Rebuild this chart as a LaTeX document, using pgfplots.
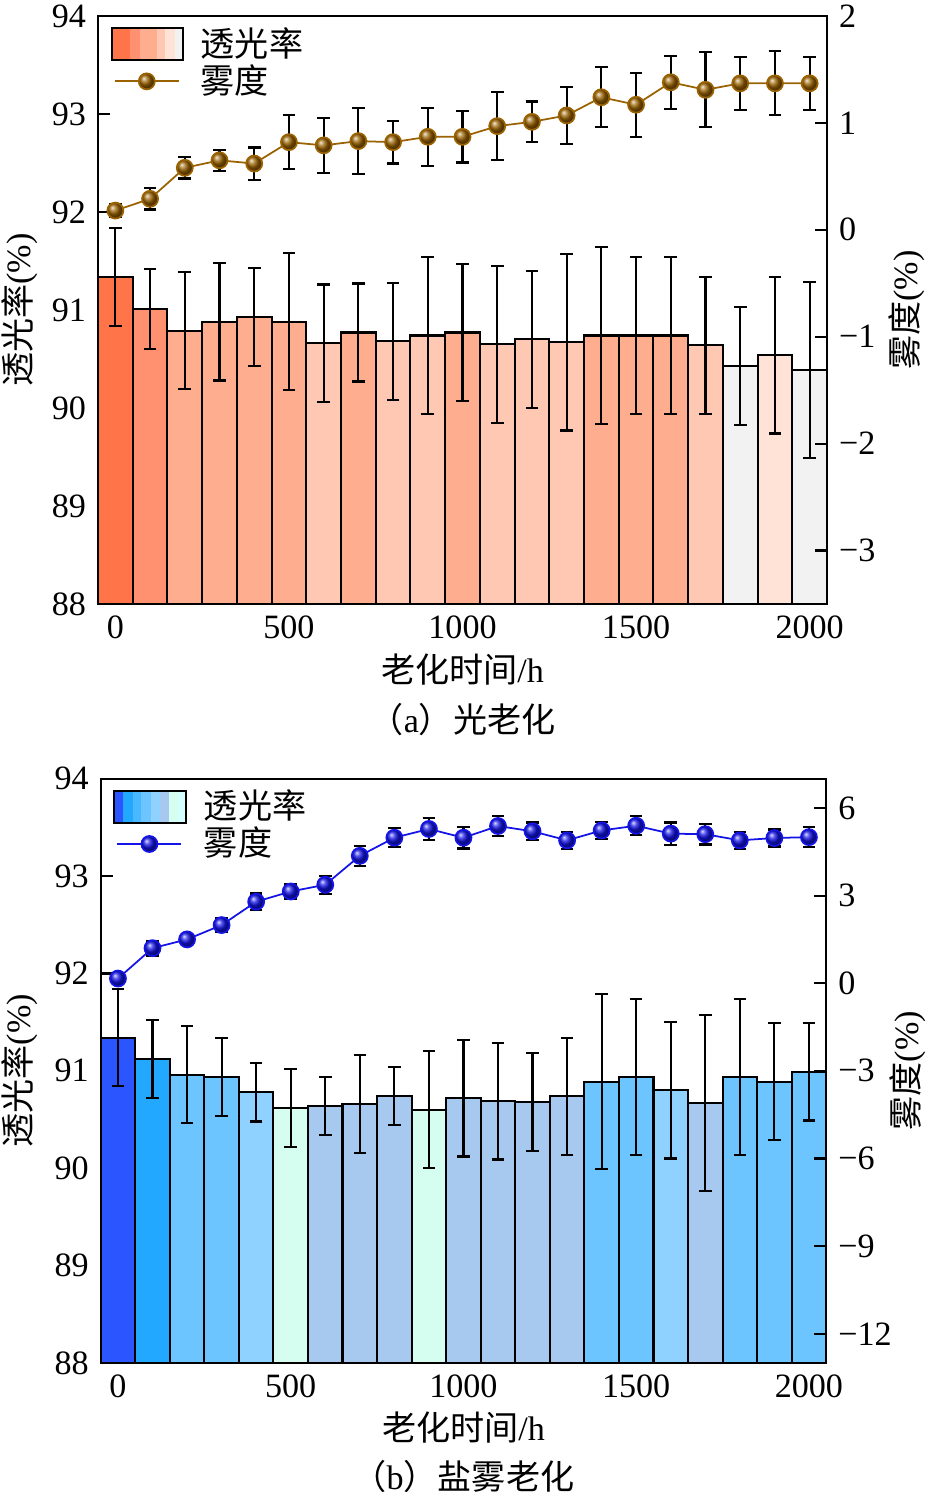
\documentclass[border=0pt]{standalone}
\usepackage{pgfplots}
\pgfplotsset{compat=1.18}
\usepackage{fontspec}
\setmainfont{Liberation Serif}
\newfontfamily\cjk{Noto Sans CJK SC}

\definecolor{ca0}{HTML}{FF7448}
\definecolor{ca1}{HTML}{FF9170}
\definecolor{ca2}{HTML}{FFAD8F}
\definecolor{ca3}{HTML}{FFC8B3}
\definecolor{ca4}{HTML}{FFE3D6}
\definecolor{ca5}{HTML}{F2F2F2}
\definecolor{hazeA}{HTML}{9A6200}
\definecolor{cb0}{HTML}{2A55FF}
\definecolor{cb1}{HTML}{22A8FF}
\definecolor{cbx}{HTML}{4AB8FF}
\definecolor{cb2}{HTML}{6CC5FF}
\definecolor{cb3}{HTML}{8FD1FF}
\definecolor{cb4}{HTML}{A8C9EF}
\definecolor{cb5}{HTML}{D5FDF0}
\definecolor{cby}{HTML}{D5FFFF}
\definecolor{hazeB}{HTML}{1414E6}

\pgfplotsset{
  mybar/.style={ybar, bar width=100, bar shift=0pt, draw=black, line width=0.6pt,
    /pgfplots/error bars/y dir=both, /pgfplots/error bars/y explicit,
    /pgfplots/error bars/error bar style={line width=0.6pt, black, solid},
    /pgfplots/error bars/error mark options={rotate=90, black, mark size=0.63mm, line width=0.6pt}},
  hazeplot/.style={color=#1, line width=0.5pt, mark=ball, mark size=0.8mm,
    mark options={ball color=#1},
    /pgfplots/error bars/y dir=both, /pgfplots/error bars/y explicit,
    /pgfplots/error bars/error bar style={line width=0.6pt, black, solid},
    /pgfplots/error bars/error mark options={rotate=90, black, mark size=0.63mm, line width=0.6pt},
    legend image code/.code={\draw[mark repeat=2,mark phase=2,##1] plot coordinates {(0.3mm,0) (3.5mm,0) (6.7mm,0)};}},
  leftax/.style={scale only axis, anchor=north west,
    xmin=-50, xmax=2050, ymin=88, ymax=94,
    xtick={0,500,1000,1500,2000}, xticklabels={0,500,1000,1500,2000},
    ytick={88,89,90,91,92,93,94}, yticklabels={88,89,90,91,92,93,94},
    tick align=inside, xtick pos=bottom, ytick pos=left,
    major tick length=1.2mm, axis line style={line width=0.6pt},
    every tick/.style={black, line width=0.6pt},
    ylabel={{\cjk 透光率}(\%)}, xlabel={{\cjk 老化时间}/h},
    xlabel style={at={(axis description cs:0.5,-0.112)}, anchor=center},
    ylabel style={at={(axis description cs:-0.108,0.5)}, anchor=center}},
  rightax/.style={scale only axis, anchor=north west,
    xmin=-50, xmax=2050, hide x axis, axis y line*=right,
    tick align=inside, ytick pos=right, yticklabel pos=right,
    major tick length=1.2mm, axis line style={line width=0.6pt},
    every tick/.style={black, line width=0.6pt},
    ylabel={{\cjk 雾度}(\%)},
    ylabel style={at={(axis description cs:1.11,0.5)}, anchor=center},
    legend cell align=left,
    legend style={at={(axis description cs:0.0165,0.982)}, anchor=north west,
      draw=none, fill=none, inner sep=0pt, nodes={inner sep=0pt},
      column sep=1.7mm, row sep=0.3mm}}
}

\begin{document}
\fontsize{9.7pt}{11.6pt}\selectfont
\begin{tikzpicture}
\useasboundingbox (0,0) rectangle (92.6mm,-149.2mm);

% ---------------- (a) light ageing ----------------
\begin{axis}[leftax, at={(9.8mm,-1.6mm)}, width=72.9mm, height=58.8mm,
  extra description/.code={\node at (axis description cs:0.5,-0.197) {{\cjk （}a{\cjk ）光老化}};}]
\addplot[mybar, fill=ca0] coordinates {(0,91.34) +- (0,0.50)};
\addplot[mybar, fill=ca1] coordinates {(100,91.01) +- (0,0.41)};
\addplot[mybar, fill=ca2] coordinates {
 (200,90.79) +- (0,0.60) (300,90.88) +- (0,0.60) (400,90.93) +- (0,0.50)
 (500,90.88) +- (0,0.70) (700,90.77) +- (0,0.50) (1000,90.77) +- (0,0.70)
 (1400,90.74) +- (0,0.90) (1500,90.74) +- (0,0.80) (1600,90.74) +- (0,0.80)};
\addplot[mybar, fill=ca3] coordinates {
 (600,90.66) +- (0,0.60) (800,90.68) +- (0,0.60) (900,90.74) +- (0,0.80)
 (1100,90.65) +- (0,0.80) (1200,90.70) +- (0,0.70) (1300,90.67) +- (0,0.90)
 (1700,90.64) +- (0,0.70)};
\addplot[mybar, fill=ca4] coordinates {(1900,90.54) +- (0,0.80)};
\addplot[mybar, fill=ca5] coordinates {(1800,90.43) +- (0,0.60) (2000,90.39) +- (0,0.90)};
\end{axis}

\begin{axis}[rightax, at={(9.8mm,-1.6mm)}, width=72.9mm, height=58.8mm,
  ymin=-3.5, ymax=2, ytick={-3,-2,-1,0,1,2}, yticklabels={−3,−2,−1,0,1,2}]
\addlegendimage{legend image code/.code={
  \fill[ca0] (0mm,-1.6mm) rectangle (1.86mm,1.6mm);
  \fill[ca1] (1.86mm,-1.6mm) rectangle (2.87mm,1.6mm);
  \fill[ca2] (2.87mm,-1.6mm) rectangle (4.56mm,1.6mm);
  \fill[ca3] (4.56mm,-1.6mm) rectangle (5.41mm,1.6mm);
  \fill[ca4] (5.41mm,-1.6mm) rectangle (6.36mm,1.6mm);
  \fill[ca5] (6.36mm,-1.6mm) rectangle (7.1mm,1.6mm);
  \draw[black, line width=0.6pt] (0mm,-1.6mm) rectangle (7.1mm,1.6mm);}}
\addlegendentry{\cjk 透光率}
\addplot[hazeplot=hazeA] coordinates {
 (0,0.18) +- (0,0.06) (100,0.29) +- (0,0.10) (200,0.58) +- (0,0.10)
 (300,0.65) +- (0,0.10) (400,0.62) +- (0,0.15) (500,0.82) +- (0,0.25)
 (600,0.79) +- (0,0.26) (700,0.83) +- (0,0.31) (800,0.82) +- (0,0.20)
 (900,0.87) +- (0,0.27) (1000,0.87) +- (0,0.24) (1100,0.97) +- (0,0.32)
 (1200,1.01) +- (0,0.19) (1300,1.07) +- (0,0.27) (1400,1.24) +- (0,0.28)
 (1500,1.17) +- (0,0.30) (1600,1.38) +- (0,0.25) (1700,1.31) +- (0,0.35)
 (1800,1.37) +- (0,0.25) (1900,1.37) +- (0,0.30) (2000,1.37) +- (0,0.25)};
\addlegendentry{\cjk 雾度}
\end{axis}

% ---------------- (b) salt-spray ageing ----------------
\begin{axis}[leftax, at={(10.07mm,-77.87mm)}, width=72.55mm, height=58.43mm,
  xlabel style={at={(axis description cs:0.5,-0.111)}},
  ylabel style={at={(axis description cs:-0.111,0.5)}},
  extra description/.code={\node at (axis description cs:0.5,-0.195) {{\cjk （}b{\cjk ）盐雾老化}};}]
\addplot[mybar, fill=cb0] coordinates {(0,91.34) +- (0,0.50)};
\addplot[mybar, fill=cb1] coordinates {(100,91.12) +- (0,0.40)};
\addplot[mybar, fill=cb2] coordinates {
 (200,90.96) +- (0,0.50) (300,90.94) +- (0,0.40) (1400,90.89) +- (0,0.90)
 (1500,90.94) +- (0,0.80) (1800,90.94) +- (0,0.80) (1900,90.89) +- (0,0.60)
 (2000,90.99) +- (0,0.50)};
\addplot[mybar, fill=cb3] coordinates {(400,90.78) +- (0,0.30) (1600,90.80) +- (0,0.70)};
\addplot[mybar, fill=cb4] coordinates {
 (600,90.64) +- (0,0.30) (700,90.66) +- (0,0.50) (800,90.74) +- (0,0.30)
 (1000,90.72) +- (0,0.60) (1100,90.69) +- (0,0.60) (1200,90.68) +- (0,0.50)
 (1300,90.74) +- (0,0.60) (1700,90.67) +- (0,0.90)};
\addplot[mybar, fill=cb5] coordinates {(500,90.62) +- (0,0.40) (900,90.60) +- (0,0.60)};
\end{axis}

\begin{axis}[rightax, at={(10.07mm,-77.87mm)}, width=72.55mm, height=58.43mm,
  ymin=-13, ymax=7, ytick={-12,-9,-6,-3,0,3,6}, yticklabels={−12,−9,−6,−3,0,3,6},
  ylabel style={at={(axis description cs:1.112,0.5)}}]
\addlegendimage{legend image code/.code={
  \fill[cb0] (0mm,-1.6mm) rectangle (0.91mm,1.6mm);
  \fill[cb1] (0.91mm,-1.6mm) rectangle (1.92mm,1.6mm);
  \fill[cbx] (1.92mm,-1.6mm) rectangle (2.76mm,1.6mm);
  \fill[cb2] (2.76mm,-1.6mm) rectangle (3.77mm,1.6mm);
  \fill[cb3] (3.77mm,-1.6mm) rectangle (4.61mm,1.6mm);
  \fill[cb4] (4.61mm,-1.6mm) rectangle (5.52mm,1.6mm);
  \fill[cb5] (5.52mm,-1.6mm) rectangle (6.40mm,1.6mm);
  \fill[cby] (6.40mm,-1.6mm) rectangle (7.15mm,1.6mm);
  \draw[black, line width=0.6pt] (0mm,-1.6mm) rectangle (7.15mm,1.6mm);}}
\addlegendentry{\cjk 透光率}
\addplot[hazeplot=hazeB] coordinates {
 (0,0.16) +- (0,0.20) (100,1.20) +- (0,0.25) (200,1.50) +- (0,0.15)
 (300,1.99) +- (0,0.25) (400,2.79) +- (0,0.28) (500,3.14) +- (0,0.24)
 (600,3.37) +- (0,0.31) (700,4.36) +- (0,0.34) (800,4.98) +- (0,0.32)
 (900,5.28) +- (0,0.39) (1000,4.98) +- (0,0.37) (1100,5.38) +- (0,0.34)
 (1200,5.20) +- (0,0.30) (1300,4.89) +- (0,0.29) (1400,5.23) +- (0,0.28)
 (1500,5.39) +- (0,0.32) (1600,5.12) +- (0,0.38) (1700,5.10) +- (0,0.35)
 (1800,4.89) +- (0,0.30) (1900,4.97) +- (0,0.29) (2000,5.00) +- (0,0.35)};
\addlegendentry{\cjk 雾度}
\end{axis}
\end{tikzpicture}
\end{document}
